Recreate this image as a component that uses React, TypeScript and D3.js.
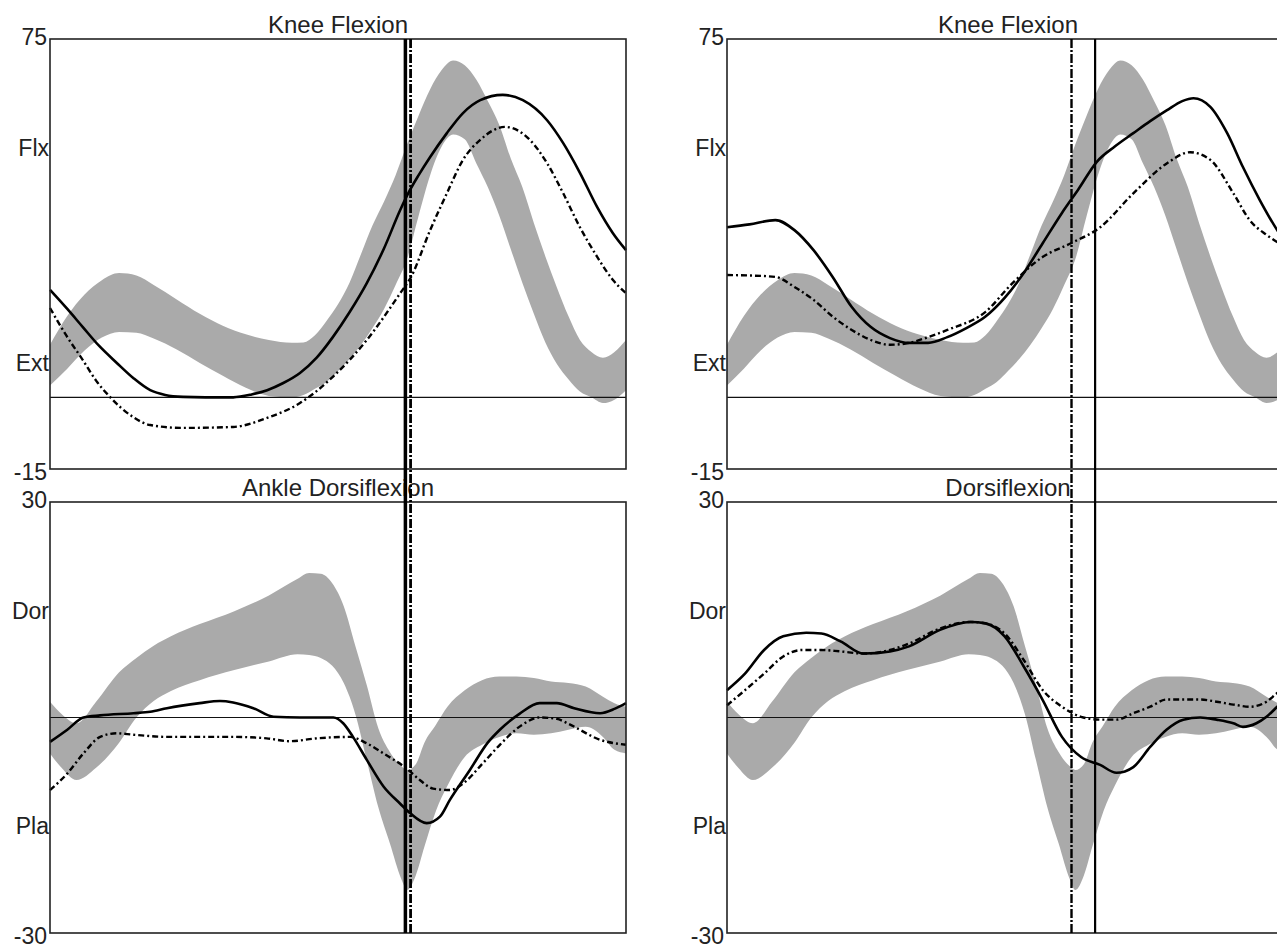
import React from 'react';
import * as d3 from 'd3';

// ---------- Normative bands (% gait cycle, degrees) ----------
const kneeNormPct = [0, 3, 6, 9, 12, 15, 18, 22, 26, 30, 34, 38, 42, 44, 46, 48, 50, 52, 54, 56, 58, 60, 62, 64, 66, 68, 70, 72, 74, 76, 78, 80, 82, 84, 86, 88, 90, 92, 94, 96, 98, 100];
const kneeNormHi = [11, 17, 21.5, 24.5, 26, 25.5, 23.5, 20.5, 17.5, 15, 13.2, 12, 11.4, 11.5, 13, 16, 19.5, 24, 30, 36, 41, 46.5, 53, 59, 64.5, 68.5, 70.5, 69.5, 66.5, 62, 57, 50, 44, 36.5, 29.5, 23, 17, 12, 9.5, 8.3, 9.5, 12];
const kneeNormLo = [2.5, 6, 9.8, 12.5, 13.7, 13.5, 12.3, 10, 7.2, 4.5, 2, 0.3, 0, 0.5, 1.8, 3.2, 5.5, 8, 11, 14.5, 18.5, 23.5, 29, 38, 46.5, 52.5, 55, 54, 49, 44, 38, 31, 24, 17.5, 11.5, 7, 3.8, 1.2, 0, -1.2, -0.5, 1.5];

const ankleNormPct = [0, 2, 4.6, 8, 12, 15, 18, 21, 26, 32, 38, 43, 45, 47, 49, 51, 53, 55, 57, 59, 61, 62, 63.5, 65, 67, 69, 72, 75, 78, 81, 84, 87, 90, 93, 96, 98, 100];
const ankleNormHi = [2.2, 0.5, -0.8, 2.2, 6.3, 8.3, 10, 11.3, 13, 14.8, 17, 19.3, 20.1, 20, 18.7, 15.5, 10, 4.5, -1.5, -4.8, -6.8, -7.3, -6.5, -3.5, -1, 1.5, 3.8, 5.2, 5.7, 5.7, 5.5, 5, 4.8, 4.3, 2.9, 2, 1.5];
const ankleNormLo = [-5, -7, -8.7, -7, -3.5, 0, 2.3, 3.7, 5.2, 6.6, 7.8, 8.8, 8.7, 8.3, 7.2, 4.8, 0.5, -6, -12.5, -17.5, -22.5, -24, -22, -18, -13, -9.5, -5.5, -3.8, -2.7, -2.2, -2.4, -2.2, -1.7, -1.3, -2.7, -4.5, -5];

// ---------- Patient curves [% gait cycle, degrees] ----------
const leftKneeSolid: [number, number][] = [[0, 22.5], [3, 18.5], [5.7, 14.7], [8.5, 10.8], [11.6, 7.2], [14.5, 4], [17.4, 1.5], [20, 0.5], [23.1, 0.1], [27, 0], [31.8, 0], [35, 0.6], [37.7, 1.5], [40.5, 3], [43.4, 5.1], [46.3, 8.3], [49.1, 12.6], [52, 17.8], [55, 23.9], [58, 31.2], [60.8, 39.2], [62.5, 43.4], [64, 46.5], [66, 50.3], [68.9, 55.3], [71.7, 59.5], [74.7, 62.2], [78.6, 63.3], [82.1, 62.2], [86.3, 58], [89.1, 53.2], [92, 47], [95, 39.8], [97.7, 34.4], [100, 30.8]];
const leftKneeDash: [number, number][] = [[0, 18.7], [2.8, 13], [5.7, 7.8], [8, 3.5], [10.4, 0.1], [14.4, -4.1], [17.4, -5.8], [23.1, -6.4], [31.8, -6.2], [37.7, -4.3], [43.4, -1.2], [49.1, 4.3], [55, 12], [60.8, 21.8], [62.6, 25], [66, 35], [68.9, 42.7], [71.7, 49.7], [74.7, 53.9], [79, 56.6], [83.3, 53.9], [86.3, 49], [89.1, 42.7], [92, 35.6], [95, 29.4], [97.7, 24.6], [100, 21.8]];
const rightKneeSolid: [number, number][] = [[0, 35.6], [4, 36.2], [8.6, 37.1], [12, 35], [15.4, 30.8], [18.8, 25.2], [22.2, 18.9], [25.6, 14.7], [29, 12.4], [32.4, 11.4], [35.8, 11.4], [39.2, 12.6], [42.6, 14.5], [46, 16.9], [49.4, 20.8], [52.8, 26], [56.2, 32.3], [59.6, 38.6], [62.5, 43.5], [65.8, 49.3], [69, 52.5], [72.3, 55.3], [75.3, 57.8], [78.3, 60.1], [81, 62], [83, 62.6], [86, 60.8], [89, 55.3], [91.8, 48.2], [94.8, 41.3], [97.9, 35], [100, 31.5]];
const rightKneeDash: [number, number][] = [[0, 25.6], [4, 25.5], [8.6, 25.2], [12, 23.1], [15.4, 20.4], [18.8, 16.9], [22.2, 14.1], [25.6, 12], [29, 11], [32.4, 11.4], [35.8, 12.6], [39.2, 14.1], [46, 17.9], [50.8, 23.9], [56.2, 29.4], [61.3, 32.3], [66.4, 35.6], [72.3, 42.7], [78.3, 49], [82.4, 51.3], [86, 49.7], [90.1, 42.7], [93, 37.1], [96, 34], [97.9, 32.5], [100, 31]];

const leftAnkleSolid: [number, number][] = [[0, -3.4], [3, -1.7], [5.8, 0], [8.7, 0.3], [14.5, 0.6], [17.4, 0.8], [20.3, 1.3], [26, 2], [29.5, 2.3], [31.8, 2.1], [35.3, 1.3], [38.8, 0.1], [43.4, 0], [49.2, 0], [50.9, -0.8], [52.6, -2.7], [55, -5.9], [57.9, -9.6], [60.8, -12], [62.5, -13.3], [65.4, -14.7], [67.7, -13.8], [69.4, -11.5], [72.9, -7.3], [76, -3.5], [78.1, -1.7], [81.5, 0.5], [85, 2], [88, 2], [91, 1.3], [95.5, 0.6], [98, 1.2], [100, 2]];
const leftAnkleDash: [number, number][] = [[0, -10.1], [3, -7.8], [5.8, -5], [8.7, -2.7], [11.6, -2.2], [14.5, -2.4], [20.3, -2.7], [26, -2.7], [31.8, -2.7], [37.6, -2.9], [41.6, -3.3], [46.3, -2.9], [52.1, -2.7], [55, -3.6], [57.9, -5], [61.9, -7.1], [64.2, -8.7], [66.5, -9.9], [69.4, -10.1], [72, -9], [75, -6.5], [78.1, -3.8], [82, -1], [85, 0], [88, -0.2], [90.3, -1], [95.5, -3.1], [100, -3.8]];
const rightAnkleSolid: [number, number][] = [[0, 3.8], [3.2, 6.1], [6.6, 9.4], [10, 11.3], [14.1, 11.8], [16.8, 11.7], [20.2, 10.6], [24.3, 8.9], [29, 9.2], [32.4, 9.9], [37.9, 12.2], [43.3, 13.3], [46, 13.1], [49.4, 11.3], [52.8, 7.1], [56.2, 2.4], [59.6, -2.7], [63, -5.5], [66.4, -6.6], [69.3, -7.7], [72.3, -6.9], [75.3, -4.1], [78.2, -1.7], [81.2, -0.3], [84.2, 0], [87.1, -0.3], [90.1, -0.8], [91.8, -1.3], [94.2, -0.8], [96, 0.1], [97.9, 1.5], [100, 3]];
const rightAnkleDash: [number, number][] = [[0, 1.7], [3.2, 3.8], [6.6, 6.1], [10, 8.5], [13.4, 9.4], [16.8, 9.4], [20.2, 9.2], [24.3, 8.9], [29, 9.4], [32.4, 10.3], [37.9, 12.4], [43.3, 13.3], [46, 13.1], [49.4, 11.7], [52.8, 8], [56.2, 3.8], [59.6, 1.5], [63, 0.1], [66.4, -0.3], [69.3, -0.3], [72.3, 0.6], [75.3, 1.5], [78.2, 2.5], [81.2, 2.5], [84.2, 2.5], [87.1, 2.2], [90.1, 1.8], [93.1, 1.5], [96, 2.2], [97.9, 3.4], [100, 4.5]];

// Gait events (% cycle)
const leftEvents = { solid: 61.7, dash: 62.6 };
const rightEvents = { solid: 65.5, dash: 61.3 };

const kneeDomain: [number, number] = [-15, 75];
const ankleDomain: [number, number] = [-30, 30];
const kneeLabels = ['Flx', 'Ext'];
const ankleLabels = ['Dor', 'Pla'];

const FONT = "'Liberation Sans', Arial, sans-serif";
const BAND = '#aaaaaa';

type Pt = [number, number];

interface PanelProps {
  x0: number; x1: number; y0: number; y1: number;
  domain: [number, number];
  title: string;
  catLabels: string[];
  bandPct: number[]; bandHi: number[]; bandLo: number[];
  solid: Pt[]; dash: Pt[];
}

function Panel(p: PanelProps) {
  const x = d3.scaleLinear().domain([0, 100]).range([p.x0, p.x1]);
  const y = d3.scaleLinear().domain(p.domain).range([p.y1, p.y0]);
  const band = p.bandPct.map((v, i) => ({ pct: v, hi: p.bandHi[i], lo: p.bandLo[i] }));
  const area = d3.area<{ pct: number; hi: number; lo: number }>()
    .x(d => x(d.pct)).y0(d => y(d.lo)).y1(d => y(d.hi)).curve(d3.curveMonotoneX);
  const line = d3.line<Pt>().x(d => x(d[0])).y(d => y(d[1])).curve(d3.curveMonotoneX);
  const h = p.y1 - p.y0;
  const cx = (p.x0 + p.x1) / 2;
  return (
    <g>
      <rect x={p.x0} y={p.y0} width={p.x1 - p.x0} height={h} fill="#fff" />
      <path d={area(band) || ''} fill={BAND} stroke="none" />
      <line x1={p.x0} x2={p.x1} y1={y(0)} y2={y(0)} stroke="#111" strokeWidth={1.2} />
      <path d={line(p.dash) || ''} fill="none" stroke="#000" strokeWidth={2.4} strokeDasharray="6,3,2,3" />
      <path d={line(p.solid) || ''} fill="none" stroke="#000" strokeWidth={2.6} />
      <rect x={p.x0} y={p.y0} width={p.x1 - p.x0} height={h} fill="none" stroke="#222" strokeWidth={1.6} />
      <text x={cx} y={p.y0 - 6} textAnchor="middle" fontFamily={FONT} fontSize={24} fill="#222">{p.title}</text>
      <text x={p.x0 - 3} y={p.y0 + 6} textAnchor="end" fontFamily={FONT} fontSize={23} fill="#222">{p.domain[1]}</text>
      <text x={p.x0 - 3} y={p.y1 + 10.5} textAnchor="end" fontFamily={FONT} fontSize={23} fill="#222">{p.domain[0]}</text>
      <text x={p.x0 - 1} y={p.y0 + 0.25 * h + 9} textAnchor="end" fontFamily={FONT} fontSize={23} fill="#222">{p.catLabels[0]}</text>
      <text x={p.x0 - 1} y={p.y0 + 0.75 * h + 9} textAnchor="end" fontFamily={FONT} fontSize={23} fill="#222">{p.catLabels[1]}</text>
    </g>
  );
}

interface ColumnProps {
  x0: number; x1: number;
  title1: string; title2: string;
  kneeSolid: Pt[]; kneeDash: Pt[]; ankleSolid: Pt[]; ankleDash: Pt[];
  events: { solid: number; dash: number };
  solidWidth: number; dashWidth: number;
}

const TOP = { y0: 39, y1: 469 };
const BOT = { y0: 502, y1: 933 };

function Column(c: ColumnProps) {
  const x = d3.scaleLinear().domain([0, 100]).range([c.x0, c.x1]);
  return (
    <g>
      <Panel x0={c.x0} x1={c.x1} y0={TOP.y0} y1={TOP.y1} domain={kneeDomain} title={c.title1}
        catLabels={kneeLabels} bandPct={kneeNormPct} bandHi={kneeNormHi} bandLo={kneeNormLo}
        solid={c.kneeSolid} dash={c.kneeDash} />
      <Panel x0={c.x0} x1={c.x1} y0={BOT.y0} y1={BOT.y1} domain={ankleDomain} title={c.title2}
        catLabels={ankleLabels} bandPct={ankleNormPct} bandHi={ankleNormHi} bandLo={ankleNormLo}
        solid={c.ankleSolid} dash={c.ankleDash} />
      <line x1={x(c.events.solid)} x2={x(c.events.solid)} y1={TOP.y0} y2={BOT.y1} stroke="#000" strokeWidth={c.solidWidth} />
      <line x1={x(c.events.dash)} x2={x(c.events.dash)} y1={TOP.y0} y2={BOT.y1} stroke="#000" strokeWidth={c.dashWidth} strokeDasharray="9,2,2,2" />
    </g>
  );
}

export default function App() {
  return (
    <svg width={1277} height={950} viewBox="0 0 1277 950"
      style={{ position: 'absolute', left: 0, top: 0, background: '#fff', overflow: 'hidden' }}>
      <rect x={0} y={0} width={1277} height={950} fill="#fff" />
      <Column x0={50} x1={626} title1="Knee Flexion" title2="Ankle Dorsiflexion"
        kneeSolid={leftKneeSolid} kneeDash={leftKneeDash} ankleSolid={leftAnkleSolid} ankleDash={leftAnkleDash}
        events={leftEvents} solidWidth={3.5} dashWidth={2.8} />
      <Column x0={727} x1={1289} title1="Knee Flexion" title2="Dorsiflexion"
        kneeSolid={rightKneeSolid} kneeDash={rightKneeDash} ankleSolid={rightAnkleSolid} ankleDash={rightAnkleDash}
        events={rightEvents} solidWidth={2.2} dashWidth={2.4} />
    </svg>
  );
}
